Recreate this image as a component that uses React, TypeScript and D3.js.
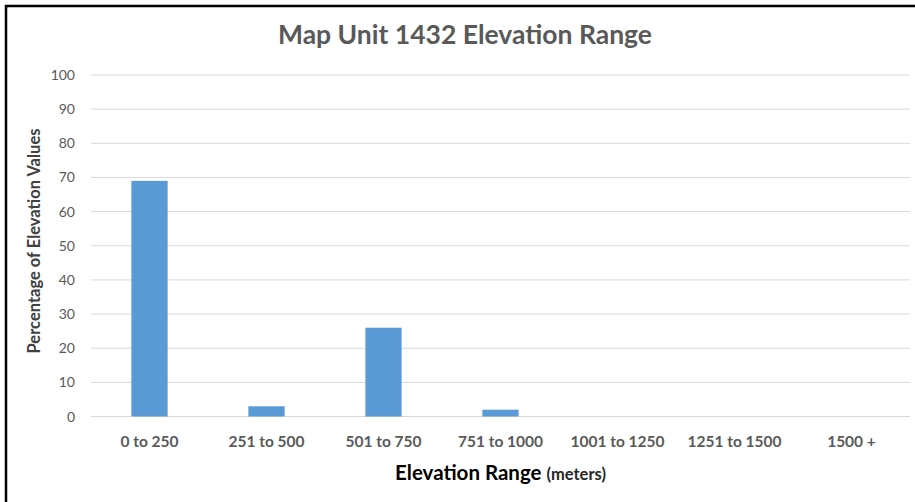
import React from "react";
import * as d3 from "d3";

const categories = ["0 to 250", "251 to 500", "501 to 750", "751 to 1000", "1001 to 1250", "1251 to 1500", "1500 +"];
const percentages = [69, 3, 26, 2, 0, 0, 0];
const yTicks = [0, 10, 20, 30, 40, 50, 60, 70, 80, 90, 100];

const WIDTH = 915;
const HEIGHT = 502;
const MARGINS = { top: 75, right: 5, bottom: 85.5, left: 91 };
const FONT = "Lato, 'Open Sans', sans-serif";

export default function App() {
  const x = d3.scaleBand()
    .domain(categories)
    .range([MARGINS.left, WIDTH - MARGINS.right])
    .paddingInner(0.69)
    .paddingOuter(0.345);

  const y = d3.scaleLinear()
    .domain([0, 100])
    .range([HEIGHT - MARGINS.bottom, MARGINS.top]);

  const midX = (MARGINS.left + WIDTH - MARGINS.right) / 2;

  return (
    <svg width={WIDTH} height={HEIGHT} style={{ position: "absolute", left: 0, top: 0, background: "#fff" }}>
      {/* frame, only top and left show */}
      <rect x={6} y={6} width={WIDTH + 10} height={HEIGHT + 10} fill="none" stroke="#000" strokeWidth={2.5} />

      <text x={465} y={44} textAnchor="middle" fontFamily={FONT} fontSize={26.5} fontWeight="bold" fill="#595959">
        Map Unit 1432 Elevation Range
      </text>

      {/* gridlines */}
      {yTicks.map((t) => (
        <g key={t}>
          <line x1={MARGINS.left} x2={WIDTH - MARGINS.right} y1={y(t)} y2={y(t)} stroke="#d9d9d9" strokeWidth={1} />
          <text x={75} y={y(t)} dy="0.36em" textAnchor="end" fontFamily={FONT} fontSize={14} fill="#595959">
            {t}
          </text>
        </g>
      ))}

      {/* bars */}
      {categories.map((c, i) => (
        percentages[i] > 0 ? (
          <rect key={c} x={x(c)} y={y(percentages[i])} width={x.bandwidth()} height={y(0) - y(percentages[i])} fill="#5b9bd5" />
        ) : null
      ))}

      {/* category labels */}
      {categories.map((c) => (
        <text key={c} x={(x(c) as number) + x.bandwidth() / 2} y={447} textAnchor="middle" fontFamily={FONT} fontSize={15.5} fontWeight="bold" fill="#595959">
          {c}
        </text>
      ))}

      <text x={midX} y={480} textAnchor="middle" fontFamily={FONT} fill="#000">
        <tspan fontSize={20.5} fontWeight="bold">Elevation Range </tspan>
        <tspan fontSize={16.5} fontWeight="bold" fill="#262626">(meters)</tspan>
      </text>

      <text transform="translate(40,241) rotate(-90)" textAnchor="middle" fontFamily={FONT} fontSize={16.5} fontWeight="bold" fill="#404040">
        Percentage of Elevation Values
      </text>
    </svg>
  );
}
